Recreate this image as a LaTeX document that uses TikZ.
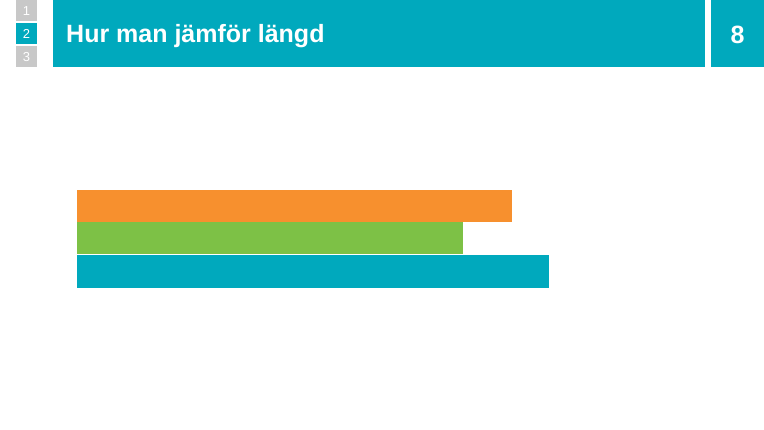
\documentclass[tikz,border=0pt]{standalone}
\usepackage{fontspec}
\setmainfont{Liberation Sans}
\usepackage{xcolor}
\definecolor{teal}{RGB}{0,169,189}
\definecolor{barorange}{RGB}{247,144,46}
\definecolor{bargreen}{RGB}{125,193,70}
\definecolor{pagegray}{RGB}{200,200,200}

\begin{document}
\begin{tikzpicture}[x=1pt,y=-1pt,every node/.style={font=\bfseries,text=white}]
\useasboundingbox (0,0) rectangle (764,430);
\fill[white] (0,0) rectangle (764,430);
% page tabs
\fill[pagegray] (16,0) rectangle (37,21);
\node[font=\fontsize{13}{15}\selectfont] (tabone) at (26.5,11) {1};
\fill[teal] (16,23) rectangle (37,44);
\node[font=\fontsize{13}{15}\selectfont] (tabtwo) at (26.5,34) {2};
\fill[pagegray] (16,46) rectangle (37,67);
\node[font=\fontsize{13}{15}\selectfont] (tabthree) at (26.5,57) {3};
% title bar
\fill[teal] (53,0) rectangle (705,67);
\node[anchor=base west,inner sep=0pt] (title) at (66,43) {\fontsize{25}{30}\selectfont Hur man jämför längd};
\fill[teal] (711,0) rectangle (764,67);
\node[anchor=base,inner sep=0pt] (pagenum) at (737.5,44) {\fontsize{25}{30}\selectfont 8};
% bars
\fill[barorange] (77,190) rectangle (512,222);
\fill[bargreen] (77,222) rectangle (463,254);
\fill[teal] (77,255) rectangle (549,288);
\end{tikzpicture}
\end{document}
